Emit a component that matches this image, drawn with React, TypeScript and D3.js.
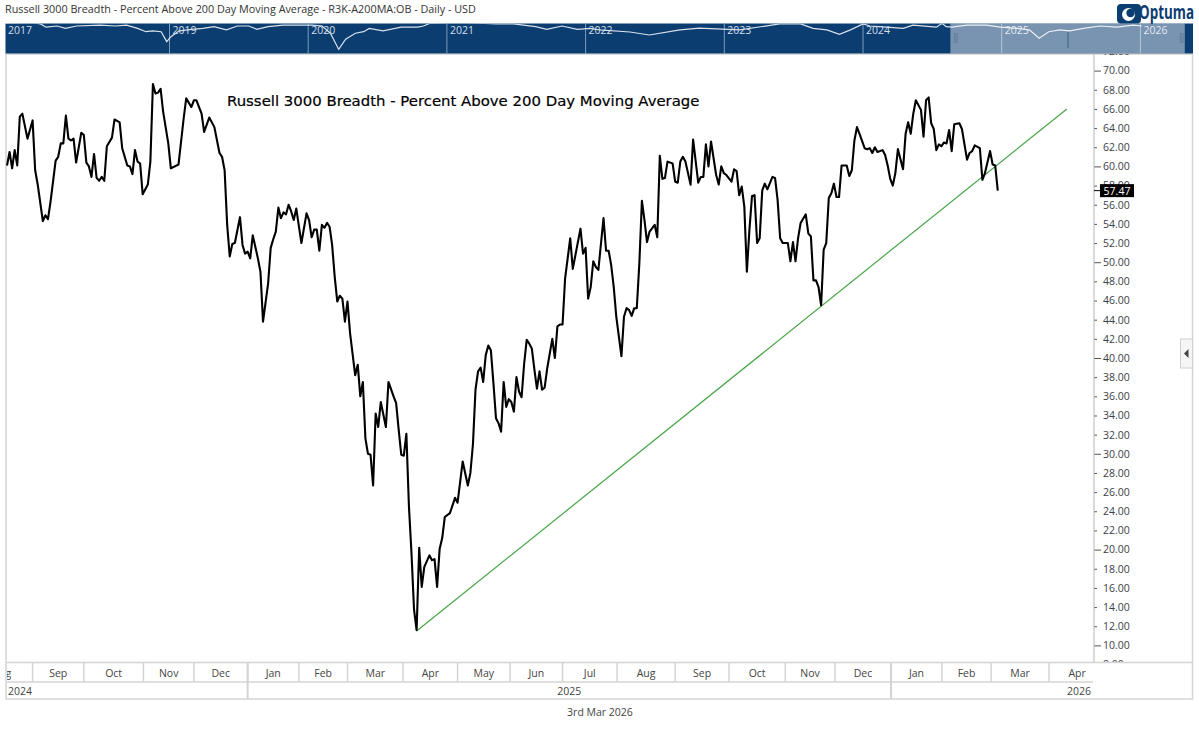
import { useEffect, useRef } from 'react';
import { select, scaleLinear, line, axisRight, range, format } from 'd3';

const WIDTH = 1199;
const HEIGHT = 730;

// [trading session since the left edge of the chart, percent above 200 DMA]
const breadthPoints: [number, number][] = [
  [0, 60.1], [1, 61.5], [2, 59.8], [3, 61.7], [4, 60.1], [5, 65.2], [6, 65.5], [8, 62.9], [10, 64.8], [11, 59.6],
  [12, 58.1], [14, 54.3], [15, 54.9], [16, 54.5], [17, 56.3], [19, 60.6], [20, 61.0], [21, 62.4], [22, 62.4], [23, 65.3],
  [24, 62.9], [25, 62.7], [26, 62.9], [27, 60.4], [29, 63.5], [30, 63.3], [31, 60.4], [32, 60.0], [33, 58.9], [34, 61.3],
  [35, 58.8], [36, 58.5], [37, 58.9], [38, 58.5], [39, 62.1], [41, 63.0], [42, 64.9], [44, 64.6], [45, 61.9], [47, 60.1],
  [48, 60.0], [49, 59.2], [50, 61.7], [51, 60.5], [52, 60.3], [53, 57.1], [55, 58.1], [56, 60.5], [57, 68.6], [58, 67.6],
  [59, 67.7], [60, 68.1], [61, 65.7], [63, 62.4], [64, 59.8], [67, 60.2], [69, 65.0], [70, 67.1], [72, 66.2], [73, 66.9],
  [74, 66.9], [76, 65.5], [77, 63.6], [79, 65.1], [81, 64.1], [83, 61.4], [84, 61.0], [85, 59.6], [86, 53.9], [87, 50.6],
  [88, 51.9], [89, 52.0], [91, 54.7], [92, 51.8], [93, 50.9], [94, 51.1], [95, 50.4], [96, 52.8], [98, 50.4], [99, 49.0],
  [100, 43.8], [102, 47.8], [103, 51.5], [104, 52.4], [105, 53.2], [106, 55.7], [107, 54.6], [108, 55.2], [109, 55.0], [110, 56.0],
  [111, 55.3], [112, 54.4], [113, 55.6], [115, 52.0], [117, 55.1], [118, 54.4], [119, 52.6], [120, 53.4], [121, 53.4], [122, 51.2],
  [123, 53.9], [124, 53.6], [125, 54.1], [126, 53.7], [127, 51.8], [128, 48.5], [129, 45.9], [130, 46.5], [131, 46.2], [132, 43.8],
  [133, 45.9], [134, 42.6], [136, 38.2], [137, 39.3], [138, 36.0], [139, 37.5], [140, 31.6], [141, 30.0], [142, 29.9], [143, 26.7],
  [144, 34.2], [145, 32.8], [146, 35.4], [148, 32.8], [149, 37.5], [151, 36.0], [152, 35.3], [153, 32.5], [154, 29.9], [155, 29.8],
  [156, 32.1], [157, 24.5], [158, 19.6], [159, 13.7], [160, 11.6], [161, 20.2], [162, 16.1], [163, 18.2], [165, 19.4], [166, 18.9],
  [167, 19.0], [168, 16.1], [169, 20.1], [170, 21.2], [171, 23.4], [173, 23.8], [175, 25.4], [176, 24.9], [178, 29.2], [180, 26.7],
  [181, 28.0], [182, 31.0], [183, 36.7], [184, 38.6], [185, 39.0], [186, 37.5], [187, 40.3], [188, 41.3], [189, 40.8], [190, 37.4],
  [191, 33.7], [192, 33.2], [193, 32.3], [194, 37.5], [195, 34.9], [196, 35.7], [197, 35.4], [198, 34.4], [199, 38.0], [200, 36.5],
  [201, 35.9], [202, 39.4], [203, 41.9], [204, 41.5], [205, 41.0], [206, 38.8], [207, 36.8], [208, 38.6], [209, 36.7], [210, 36.9],
  [211, 38.9], [213, 42.0], [214, 40.0], [215, 43.3], [216, 43.5], [217, 43.5], [218, 48.3], [220, 52.5], [221, 49.3], [224, 53.5],
  [225, 50.9], [226, 51.5], [227, 46.2], [228, 47.4], [229, 50.1], [230, 49.5], [231, 49.2], [233, 54.6], [234, 51.2], [235, 51.2],
  [236, 49.7], [237, 47.4], [238, 44.3], [240, 40.2], [241, 44.3], [242, 45.2], [243, 45.0], [244, 44.4], [245, 45.2], [246, 45.2],
  [247, 49.9], [248, 56.4], [249, 54.4], [250, 52.1], [251, 53.2], [253, 53.9], [254, 52.6], [255, 61.1], [256, 58.7], [257, 58.8],
  [258, 60.5], [260, 60.3], [261, 58.4], [262, 58.3], [263, 60.5], [264, 61.0], [265, 60.5], [267, 58.1], [268, 62.8], [270, 58.3],
  [271, 58.9], [272, 58.9], [273, 62.3], [274, 60.0], [275, 62.6], [277, 59.1], [278, 58.1], [279, 60.0], [280, 59.3], [281, 59.1],
  [283, 58.4], [284, 59.7], [285, 59.5], [286, 57.0], [287, 57.9], [288, 55.8], [289, 49.0], [290, 53.4], [291, 56.9], [292, 57.0],
  [293, 52.0], [294, 52.5], [295, 57.5], [296, 58.2], [297, 57.6], [299, 58.9], [300, 58.8], [301, 56.5], [302, 52.5], [303, 52.0],
  [305, 52.0], [306, 50.1], [307, 52.1], [308, 50.1], [309, 52.5], [310, 54.1], [312, 55.0], [313, 53.0], [314, 52.7], [315, 48.1],
  [316, 48.1], [317, 47.4], [318, 45.5], [319, 51.3], [320, 52.0], [321, 56.7], [322, 57.2], [323, 58.2], [324, 56.8], [325, 56.8],
  [326, 60.1], [328, 60.1], [329, 59.0], [330, 59.6], [331, 62.7], [332, 64.1], [333, 63.4], [335, 61.9], [336, 61.8], [337, 61.9],
  [338, 61.4], [339, 62.0], [340, 61.5], [342, 61.7], [343, 61.2], [344, 60.1], [345, 58.7], [346, 58.0], [347, 59.3], [348, 61.8],
  [350, 59.7], [351, 63.4], [352, 64.6], [353, 63.4], [354, 65.5], [355, 66.9], [357, 65.9], [358, 63.1], [359, 66.9], [360, 67.2],
  [361, 64.5], [362, 63.9], [363, 61.7], [364, 62.3], [365, 62.1], [366, 62.5], [367, 62.4], [368, 63.8], [369, 61.6], [370, 64.4],
  [372, 64.5], [373, 63.9], [375, 60.7], [376, 61.4], [377, 61.6], [378, 62.2], [380, 61.9], [381, 58.6], [382, 59.3], [384, 61.6],
  [385, 60.2], [386, 60.1], [387, 57.47],
];
const lastValue = 57.47;

const trendPoints: [number, number][] = [[160, 11.5], [414, 66.0]];

const priceTicks = range(8, 74, 2);

const monthLabels = ['Aug', 'Sep', 'Oct', 'Nov', 'Dec', 'Jan', 'Feb', 'Mar', 'Apr', 'May', 'Jun', 'Jul', 'Aug', 'Sep', 'Oct', 'Nov', 'Dec', 'Jan', 'Feb', 'Mar', 'Apr'];
const monthStarts = [-14, 10, 30, 53.3, 73, 94, 114, 133, 154.7, 176, 196.5, 217, 238.3, 261, 282, 304, 323.4, 345.3, 365.2, 384.4, 407];
const monthsEnd = 429;
const yearStarts = [94, 345.3];

// overview strip: [year, level in the strip, 0 bottom to 100 top]
const overviewPoints: [number, number][] = [
  [2017.82, 100], [2018.01, 102], [2018.07, 98], [2018.11, 87], [2018.19, 91], [2018.25, 83], [2018.33, 91], [2018.5, 94], [2018.61, 91], [2018.69, 94],
  [2018.77, 83], [2018.83, 72], [2018.88, 75], [2018.94, 72], [2018.98, 39], [2019.01, 55], [2019.07, 75], [2019.16, 80], [2019.24, 83], [2019.32, 89],
  [2019.41, 78], [2019.49, 91], [2019.57, 91], [2019.63, 80], [2019.71, 89], [2019.82, 94], [2019.93, 94], [2020.03, 94], [2020.1, 91], [2020.16, 67],
  [2020.22, 13], [2020.27, 47], [2020.34, 67], [2020.4, 72], [2020.44, 83], [2020.54, 75], [2020.67, 87], [2020.79, 87], [2020.83, 91], [2020.88, 100],
  [2021.09, 103], [2021.36, 98], [2021.48, 98], [2021.64, 89], [2021.72, 80], [2021.83, 91], [2021.94, 80], [2022.03, 83], [2022.1, 78], [2022.32, 71],
  [2022.46, 61], [2022.68, 78], [2022.82, 84], [2023.11, 78], [2023.4, 98], [2023.55, 98], [2023.64, 83], [2023.74, 78], [2023.83, 63], [2023.91, 78],
  [2024.0, 98], [2024.05, 91], [2024.17, 87], [2024.29, 83], [2024.36, 94], [2024.53, 87], [2024.57, 100], [2024.6, 89], [2024.64, 87], [2024.75, 94],
  [2024.89, 94], [2024.99, 87], [2025.11, 83], [2025.2, 78], [2025.27, 50], [2025.34, 72], [2025.42, 78], [2025.49, 75], [2025.59, 83], [2025.71, 91],
  [2025.83, 87], [2025.95, 94], [2026.01, 91],
];
const overviewYears = [2019, 2020, 2021, 2022, 2023, 2024, 2025, 2026];
const overviewWindow = [2024.63, 2026.32];

const uiFont = '"Open Sans", sans-serif';

export default function App() {
  const svgRef = useRef<SVGSVGElement>(null);

  useEffect(() => {
    if (!svgRef.current) return;
    const svg = select(svgRef.current);
    svg.selectAll('*').remove();

    const plot = { left: 7, right: 1093, top: 54, bottom: 662.5 };
    const x = scaleLinear().domain([0, 424.2]).range([plot.left, plot.right]);
    const y = scaleLinear().domain([10, 70]).range([645.4, 70.6]);
    const toPath = line<[number, number]>().x((d) => x(d[0])).y((d) => y(d[1]));

    const defs = svg.append('defs');
    defs.append('clipPath').attr('id', 'axis-clip').append('rect')
      .attr('x', 1090).attr('y', plot.top).attr('width', 100).attr('height', plot.bottom - plot.top);
    defs.append('clipPath').attr('id', 'month-clip').append('rect')
      .attr('x', plot.left).attr('y', plot.bottom).attr('width', 1098).attr('height', 40);
    defs.append('clipPath').attr('id', 'strip-clip').append('rect')
      .attr('x', 5.5).attr('y', 23.5).attr('width', 1187.5).attr('height', 30);

    // Header
    svg.append('text').attr('x', 5).attr('y', 12.5)
      .attr('font-family', uiFont).attr('font-size', 10.8).attr('fill', '#333')
      .text('Russell 3000 Breadth - Percent Above 200 Day Moving Average - R3K-A200MA:OB - Daily - USD');

    // Frame
    const frameColor = '#d4d4d4';
    svg.append('rect').attr('x', 6).attr('y', 54).attr('width', 1186.5).attr('height', 645)
      .attr('fill', 'none').attr('stroke', frameColor).attr('stroke-width', 1.5);

    // Price axis
    const axis = svg.append('g').attr('clip-path', 'url(#axis-clip)')
      .append('g').attr('transform', `translate(${plot.right + 1},0)`)
      .call(axisRight(y).tickValues(priceTicks).tickSize(3).tickPadding(6).tickFormat((d) => format('.2f')(d as number)));
    axis.select('.domain').remove();
    axis.selectAll('line')
      .attr('stroke', '#555')
      .attr('x2', (d) => ((d as number) % 10 === 0 ? 7 : 3));
    axis.selectAll('text')
      .attr('x', 9)
      .attr('font-family', uiFont).attr('font-size', 10.5).attr('fill', '#3c4048');
    svg.append('line').attr('x1', plot.right + 1).attr('x2', plot.right + 1).attr('y1', plot.top).attr('y2', plot.bottom)
      .attr('stroke', '#b5b5b5').attr('stroke-width', 1);

    // Month and year rows
    const rows = svg.append('g');
    rows.append('line').attr('x1', plot.left).attr('x2', 1192).attr('y1', plot.bottom).attr('y2', plot.bottom)
      .attr('stroke', frameColor).attr('stroke-width', 1.5);
    rows.append('line').attr('x1', plot.left).attr('x2', plot.right).attr('y1', 682).attr('y2', 682)
      .attr('stroke', frameColor).attr('stroke-width', 1.5);
    const months = rows.append('g').attr('clip-path', 'url(#month-clip)');
    monthLabels.forEach((label, i) => {
      const start = monthStarts[i];
      const end = i + 1 < monthStarts.length ? monthStarts[i + 1] : monthsEnd;
      if (i > 0) {
        months.append('line').attr('x1', x(start)).attr('x2', x(start)).attr('y1', plot.bottom).attr('y2', 682)
          .attr('stroke', frameColor).attr('stroke-width', 1.5);
      }
      months.append('text').attr('x', (x(start) + x(end)) / 2).attr('y', 677)
        .attr('text-anchor', 'middle').attr('font-family', uiFont).attr('font-size', 10.5).attr('fill', '#444')
        .text(label);
    });
    yearStarts.forEach((s) => {
      rows.append('line').attr('x1', x(s)).attr('x2', x(s)).attr('y1', plot.bottom).attr('y2', 699)
        .attr('stroke', frameColor).attr('stroke-width', 2);
    });
    const yearLabel = (label: string, px: number, anchor: string) =>
      rows.append('text').attr('x', px).attr('y', 695).attr('text-anchor', anchor)
        .attr('font-family', uiFont).attr('font-size', 10.5).attr('fill', '#444').text(label);
    yearLabel('2024', 8, 'start');
    yearLabel('2025', (x(yearStarts[0]) + x(yearStarts[1])) / 2, 'middle');
    yearLabel('2026', 1091, 'end');

    svg.append('text').attr('x', 600).attr('y', 716).attr('text-anchor', 'middle')
      .attr('font-family', uiFont).attr('font-size', 10.5).attr('fill', '#444').text('3rd Mar 2026');

    // Series
    svg.append('path').attr('d', toPath(trendPoints)).attr('fill', 'none')
      .attr('stroke', '#46a546').attr('stroke-width', 1.2);
    svg.append('path').attr('d', toPath(breadthPoints)).attr('fill', 'none')
      .attr('stroke', '#000').attr('stroke-width', 2.1).attr('stroke-linejoin', 'round');

    svg.append('text').attr('x', 227).attr('y', 106)
      .attr('font-family', '"DejaVu Sans", sans-serif').attr('font-size', 14.9).attr('fill', '#000')
      .attr('stroke', '#000').attr('stroke-width', 0.2)
      .text('Russell 3000 Breadth - Percent Above 200 Day Moving Average');

    // Last value tag
    svg.append('line').attr('x1', plot.right + 1).attr('x2', 1101).attr('y1', y(lastValue)).attr('y2', y(lastValue))
      .attr('stroke', '#000');
    svg.append('rect').attr('x', 1100).attr('y', y(lastValue) - 6.5).attr('width', 34).attr('height', 13).attr('fill', '#000');
    svg.append('text').attr('x', 1117).attr('y', y(lastValue) + 4).attr('text-anchor', 'middle')
      .attr('font-family', uiFont).attr('font-size', 10.5).attr('fill', '#fff').text(format('.2f')(lastValue));

    // Overview strip
    const stripX = scaleLinear().domain([2019, 2026]).range([169.5, 1140.4]);
    const stripY = scaleLinear().domain([0, 100]).range([53.3, 23.3]);
    const strip = svg.append('g');
    strip.append('rect').attr('x', 5.5).attr('y', 23.5).attr('width', 1187.5).attr('height', 30).attr('fill', '#0b3d71');
    overviewYears.forEach((year) => {
      strip.append('line').attr('x1', stripX(year)).attr('x2', stripX(year)).attr('y1', 23.5).attr('y2', 53.5)
        .attr('stroke', '#7f9bb8').attr('stroke-width', 1);
    });
    ['2017', ...overviewYears.map(String)].forEach((label, i) => {
      const px = i === 0 ? 8 : stripX(overviewYears[i - 1]) + 3;
      strip.append('text').attr('x', px).attr('y', 33.5)
        .attr('font-family', uiFont).attr('font-size', 10.5).attr('fill', '#d5dee8').text(label);
    });
    strip.append('path')
      .attr('clip-path', 'url(#strip-clip)')
      .attr('d', line<[number, number]>().x((d) => stripX(d[0])).y((d) => stripY(d[1]))(overviewPoints))
      .attr('fill', 'none').attr('stroke', '#d9e1ea').attr('stroke-width', 1.2);
    strip.append('rect')
      .attr('x', stripX(overviewWindow[0])).attr('y', 23.5)
      .attr('width', stripX(overviewWindow[1]) - stripX(overviewWindow[0])).attr('height', 30)
      .attr('fill', '#fff').attr('fill-opacity', 0.45);
    strip.append('line').attr('x1', 1068).attr('x2', 1068).attr('y1', 32).attr('y2', 48)
      .attr('stroke', '#3f5f80').attr('stroke-width', 1);
    [955.7, 1181.7].forEach((px) => {
      [-1.5, 0, 1.5].forEach((dx) => {
        strip.append('line').attr('x1', px + dx).attr('x2', px + dx).attr('y1', 33).attr('y2', 43)
          .attr('stroke', '#5c7793').attr('stroke-width', 0.7);
      });
    });

    // Logo
    const logo = svg.append('g');
    logo.append('rect').attr('x', 1117).attr('y', 4).attr('width', 24).attr('height', 19.5).attr('rx', 4).attr('fill', '#0b3d71');
    logo.append('circle').attr('cx', 1128.5).attr('cy', 14.5).attr('r', 6.5).attr('fill', '#fff');
    logo.append('circle').attr('cx', 1130.5).attr('cy', 13).attr('r', 4.2).attr('fill', '#0b3d71');
    logo.append('text').attr('transform', 'translate(1139,19) scale(1,1.4)')
      .attr('font-family', uiFont).attr('font-size', 13.4).attr('font-weight', 700).attr('fill', '#0b3d71')
      .text('Optuma');

    // Side tab
    svg.append('rect').attr('x', 1180.5).attr('y', 339).attr('width', 12).attr('height', 29)
      .attr('fill', '#f5f5f5').attr('stroke', '#d0d0d0');
    svg.append('path').attr('d', 'M1188.5,349 L1184,353.5 L1188.5,358 Z').attr('fill', '#444');
  }, []);

  return (
    <svg
      ref={svgRef}
      width={WIDTH}
      height={HEIGHT}
      style={{ position: 'absolute', left: 0, top: 0, display: 'block', background: '#fff' }}
    />
  );
}
